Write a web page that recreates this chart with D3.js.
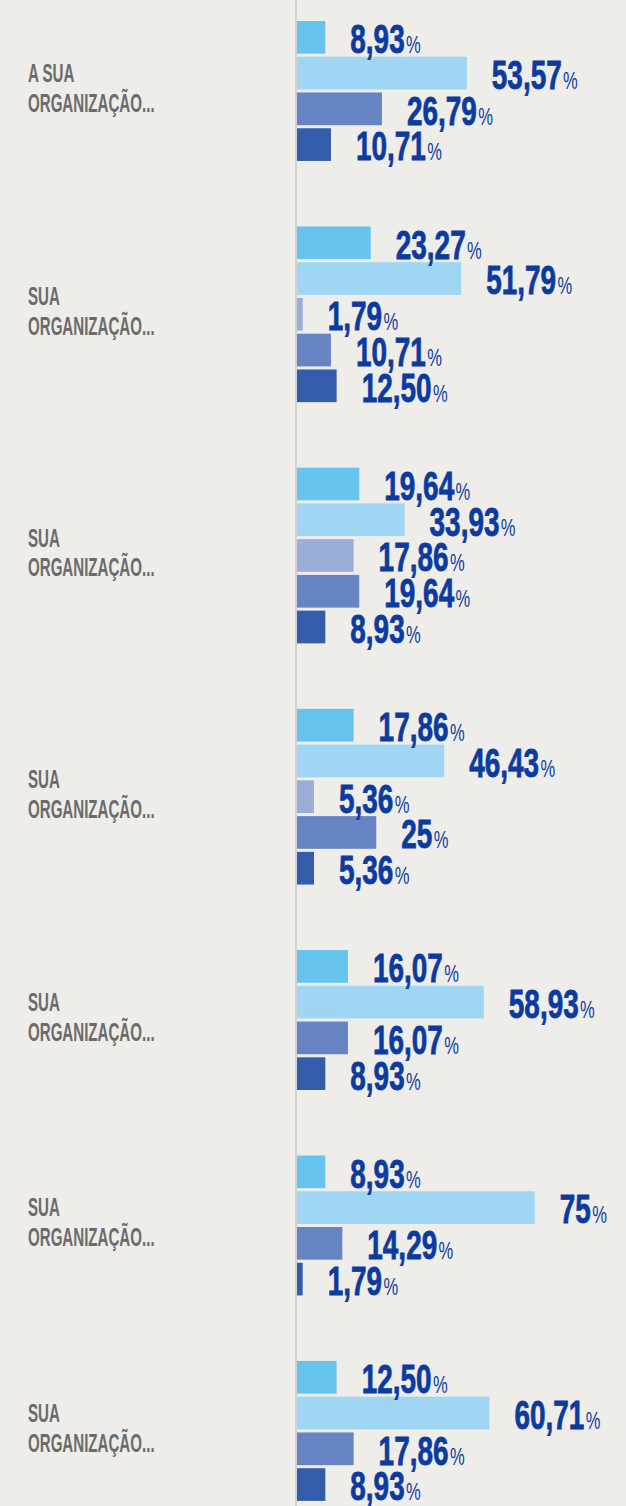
<!DOCTYPE html>
<html><head><meta charset="utf-8">
<script src="https://cdn.jsdelivr.net/npm/d3@7"></script>
<style>html,body{margin:0;padding:0;background:#efede9;} svg{display:block;}</style>
</head><body>
<script>
// ---- data ----
const categories = [
  "A SUA ORGANIZAÇÃO...",
  "SUA ORGANIZAÇÃO...",
  "SUA ORGANIZAÇÃO...",
  "SUA ORGANIZAÇÃO...",
  "SUA ORGANIZAÇÃO...",
  "SUA ORGANIZAÇÃO...",
  "SUA ORGANIZAÇÃO..."
];
const seriesNames = ["Resposta 1", "Resposta 2", "Resposta 3", "Resposta 4", "Resposta 5"];
const s1 = [8.93, 23.27, 19.64, 17.86, 16.07, 8.93, 12.50];
const s2 = [53.57, 51.79, 33.93, 46.43, 58.93, 75, 60.71];
const s3 = [null, 1.79, 17.86, 5.36, null, null, null];
const s4 = [26.79, 10.71, 19.64, 25, 16.07, 14.29, 17.86];
const s5 = [10.71, 12.50, 8.93, 5.36, 8.93, 1.79, 8.93];
const seriesValues = [s1, s2, s3, s4, s5];
const colors = ["#67c4ef", "#9fd6f3", "#9baed7", "#6683c3", "#335cab"];

// ---- layout ----
const W = 626, H = 1506;
const svg = d3.select("body").append("svg").attr("width", W).attr("height", H);
svg.append("rect").attr("width", W).attr("height", H).attr("fill", "#efede9");

const x = d3.scaleLinear().domain([0, 100]).range([297, 614]);
const step = 35.75, bh = 32.7, groupGap = 65.5, top0 = 21;
const fmt = v => Number.isInteger(v) ? String(v) : v.toFixed(2).replace(".", ",");

let yTop = top0;
const groups = categories.map((c, i) => {
  const bars = seriesValues.map((s, k) => ({k, v: s[i]})).filter(d => d.v != null && d.v > 0);
  const n = bars.length;
  const bottom = yTop + (n - 1) * step + bh;
  const y = d3.scaleBand().domain(bars.map(d => d.k)).range([yTop, bottom])
    .paddingInner(1 - bh / step).paddingOuter(0);
  const g = {c, bars, y, top: yTop, bottom};
  yTop = bottom + groupGap;
  return g;
});

// axis line
svg.append("line").attr("x1", x(0) - 1).attr("x2", x(0) - 1).attr("y1", 0).attr("y2", H)
  .attr("stroke", "#d2d2d2").attr("stroke-width", 2);

const gSel = svg.selectAll("g.grp").data(groups).join("g").attr("class", "grp");

// category labels
gSel.append("text")
  .attr("transform", d => `translate(28,${(d.top + d.bottom) / 2 - 9}) scale(0.57,1)`)
  .attr("font-family", "'Liberation Sans', Arial, sans-serif")
  .attr("font-weight", "bold").attr("font-size", 26.5).attr("fill", "#6b6b6b")
  .each(function(d) {
    const idx = d.c.lastIndexOf(" ");
    const lines = [d.c.slice(0, idx), d.c.slice(idx + 1)];
    d3.select(this).selectAll("tspan").data(lines).join("tspan")
      .attr("x", 0).attr("dy", (l, j) => j === 0 ? 0 : 30).text(l => l);
  });

// bars
gSel.each(function(g) {
  const sel = d3.select(this);
  sel.selectAll("rect").data(g.bars).join("rect")
    .attr("x", x(0)).attr("y", d => g.y(d.k))
    .attr("width", d => x(d.v) - x(0)).attr("height", g.y.bandwidth())
    .attr("fill", d => colors[d.k]);
  const t = sel.selectAll("text.val").data(g.bars).join("text").attr("class", "val")
    .attr("transform", d => `translate(${x(d.v) + 25},${g.y(d.k) + g.y.bandwidth() - 0.5}) scale(0.69,1)`)
    .attr("font-family", "'Liberation Sans', Arial, sans-serif")
    .attr("fill", "#0b3b9f");
  t.append("tspan").attr("font-weight", "bold").attr("font-size", 40.5)
    .attr("stroke", "#0b3b9f").attr("stroke-width", 0.8).text(d => fmt(d.v));
  t.append("tspan").attr("font-weight", "normal").attr("font-size", 24).attr("dx", 2).text("%");
});
</script>
</body></html>
